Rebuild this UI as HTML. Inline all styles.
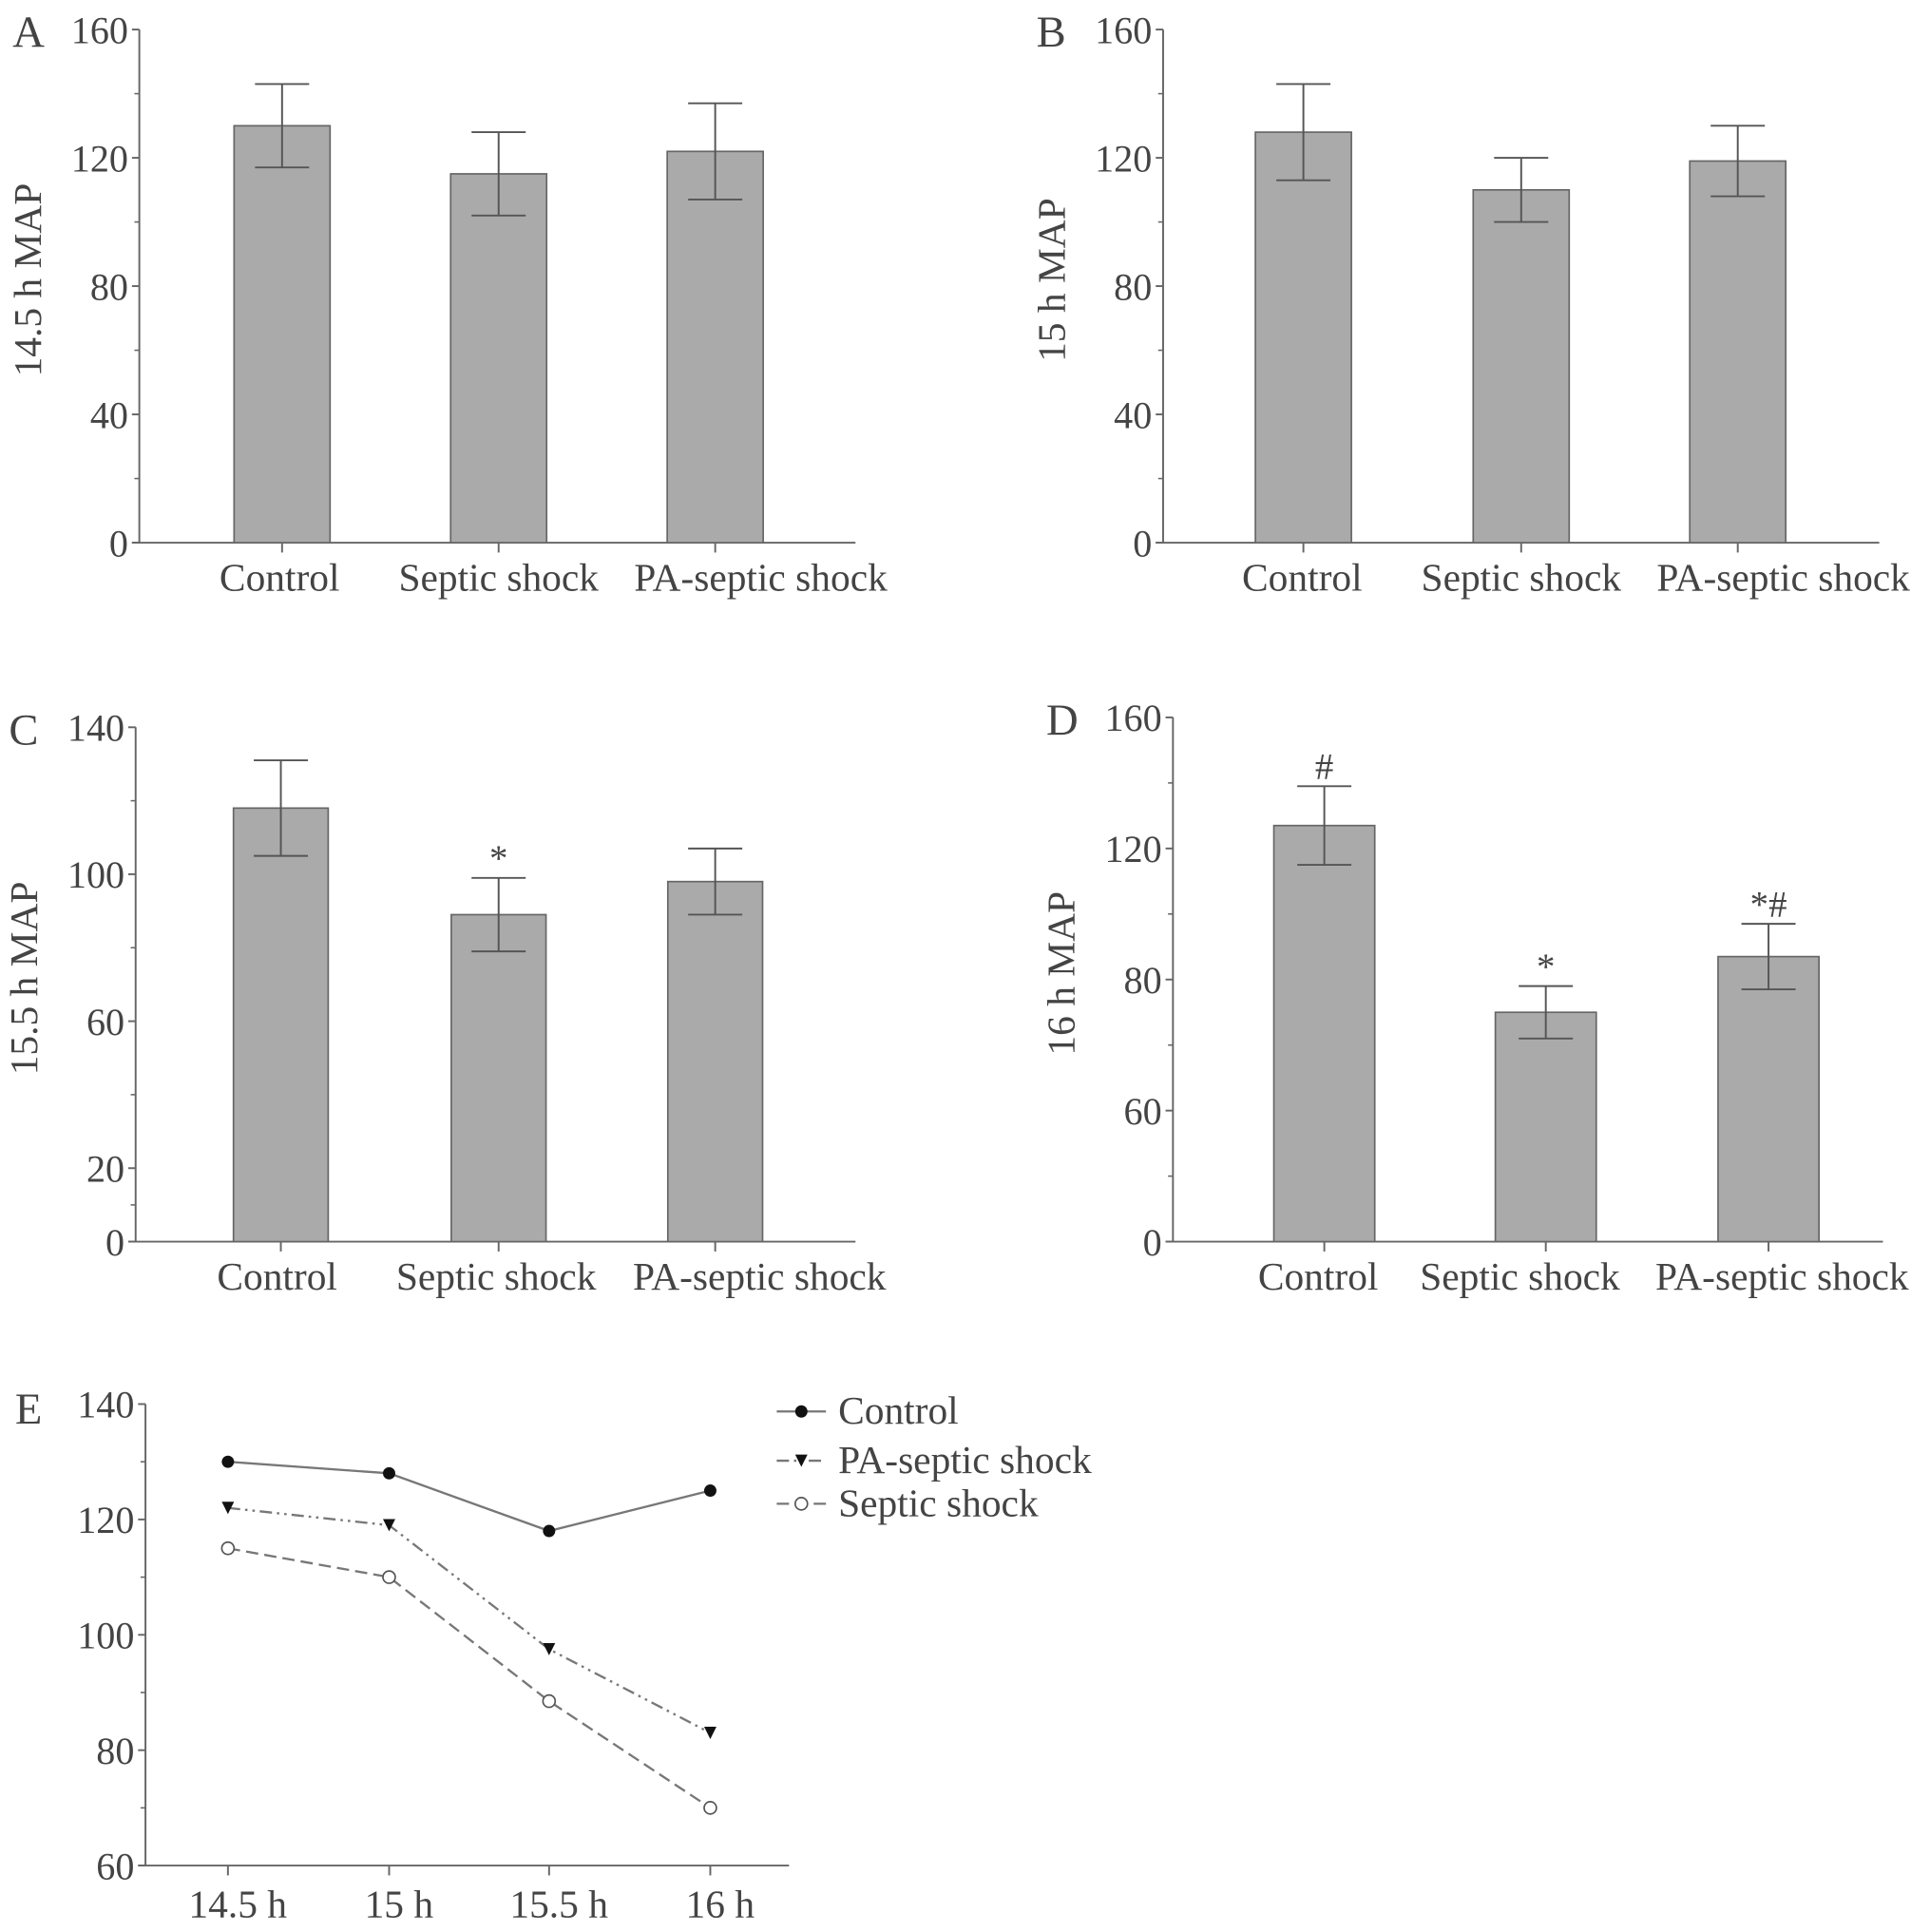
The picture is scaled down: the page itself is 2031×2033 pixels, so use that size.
<!DOCTYPE html>
<html><head><meta charset="utf-8"><style>
html,body{margin:0;padding:0;background:#fff;}
svg{display:block;}
text{font-family:"Liberation Serif",serif;fill:#444;}
</style></head><body>
<svg id="fig" width="2031" height="2033" viewBox="0 0 1568 1570" xmlns="http://www.w3.org/2000/svg"></svg>
<script>
// ---- data ----
const groups = ["Control", "Septic shock", "PA-septic shock"];
const valsA = [130, 115, 122]; const errA = [13, 13, 15];
const valsB = [128, 110, 119]; const errB = [15, 10, 11];
const valsC = [118, 89, 98];   const errC = [13, 10, 9];
const valsD = [127, 70, 87];   const errD = [12, 8, 10];
const annC = ["", "*", ""];
const annD = ["#", "*", "*#"];
const ticksAB = [0, 40, 80, 120, 160];
const ticksC = [0, 20, 60, 100, 140];
const ticksCLabels = ["0", "20", "60", "100", "140"];
const ticksD = [0, 40, 80, 120, 160];
const ticksDLabels = ["0", "60", "80", "120", "160"];
const timeLabels = ["14.5 h", "15 h", "15.5 h", "16 h"];
const lineControl = [130, 128, 118, 125];
const linePA = [122, 119, 97.5, 83];
const lineSeptic = [115, 110, 88.5, 70];
const ticksE = [60, 80, 100, 120, 140];

const svg = document.getElementById('fig');
const NS = 'http://www.w3.org/2000/svg';
function mk(tag, attrs, parent, txt) {
  const e = document.createElementNS(NS, tag);
  for (const k in attrs) e.setAttribute(k, attrs[k]);
  if (txt !== undefined) e.textContent = txt;
  (parent || svg).appendChild(e);
  return e;
}
const AX = '#666';

function barPanel(cfg) {
  const g = mk('g', {});
  
  
  const y = v => cfg.y0 - (v - cfg.min) / (cfg.max - cfg.min) * (cfg.y0 - cfg.yTop);
  const lt = mk('text', {x: cfg.ax - 103, y: cfg.yTop + 14, 'font-size': 36}, g, cfg.letter);
  
  
  const yax = mk('line', {x1: cfg.ax, x2: cfg.ax, y1: cfg.yTop, y2: cfg.y0, stroke: AX, 'stroke-width': 1.5}, g);
  
  
  const xax = mk('line', {x1: cfg.ax - 6, x2: cfg.axEnd, y1: cfg.y0, y2: cfg.y0, stroke: AX, 'stroke-width': 1.5}, g);
  
  
  cfg.ticks.forEach((t, i) => {
    mk('line', {x1: cfg.ax - 6, x2: cfg.ax, y1: y(t), y2: y(t), stroke: AX, 'stroke-width': 1.5}, g);
    const tl = mk('text', {x: cfg.ax - 9, y: y(t) + 11, 'font-size': 31, 'text-anchor': 'end'}, g, cfg.labels[i]);
    
    
    if (i < cfg.ticks.length - 1) {
      const m = (t + cfg.ticks[i + 1]) / 2;
      mk('line', {x1: cfg.ax - 4, x2: cfg.ax, y1: y(m), y2: y(m), stroke: AX, 'stroke-width': 1.2}, g);
    }
  });
  const yt = mk('text', {x: 0, y: 0, 'font-size': 32, 'text-anchor': 'middle', transform: `translate(${cfg.ax - 80},${(cfg.yTop + cfg.y0) / 2 - 5}) rotate(-90)`}, g, cfg.title);
  
  
  groups.forEach((name, i) => {
    const cx = cfg.cx[i];
    const v = cfg.vals[i], e = cfg.err[i];
    const b = mk('rect', {x: cx - cfg.bw / 2, y: y(v), width: cfg.bw, height: cfg.y0 - y(v), fill: '#aaaaaa', stroke: '#666', 'stroke-width': 1.3}, g);
    
    
    const eb = mk('g', {stroke: '#555', 'stroke-width': 1.5}, g);
    
    
    mk('line', {x1: cx, x2: cx, y1: y(v + e), y2: y(v - e)}, eb);
    mk('line', {x1: cx - 22, x2: cx + 22, y1: y(v + e), y2: y(v + e)}, eb);
    mk('line', {x1: cx - 22, x2: cx + 22, y1: y(v - e), y2: y(v - e)}, eb);
    mk('line', {x1: cx, x2: cx, y1: cfg.y0, y2: cfg.y0 + 8, stroke: AX, 'stroke-width': 1.5}, g);
    const xl = mk('text', {x: cfg.lx[i], y: cfg.y0 + 39, 'font-size': 32, 'text-anchor': 'middle'}, g, name);
    
    
    if (cfg.ann && cfg.ann[i]) {
      const a = mk('text', {x: cx, y: y(v + e) - 6, 'font-size': 30, 'text-anchor': 'middle'}, g, cfg.ann[i]);
      
      
    }
  });
}

barPanel({letter: 'A', ax: 113, axEnd: 695, yTop: 24, y0: 441, min: 0, max: 160, ticks: ticksAB, labels: ticksAB.map(String), title: '14.5 h MAP', cx: [229, 405, 581], lx: [227, 405, 618], bw: 78, vals: valsA, err: errA});
barPanel({letter: 'B', ax: 945, axEnd: 1527, yTop: 24, y0: 441, min: 0, max: 160, ticks: ticksAB, labels: ticksAB.map(String), title: '15 h MAP', cx: [1059, 1236, 1412], lx: [1058, 1236, 1449], bw: 78, vals: valsB, err: errB});
barPanel({letter: 'C', ax: 110, axEnd: 695, yTop: 591, y0: 1009, min: 0, max: 140, ticks: ticksC, labels: ticksCLabels, title: '15.5 h MAP', cx: [228, 405, 581], lx: [225, 403, 617], bw: 77, vals: valsC, err: errC, ann: annC});
barPanel({letter: 'D', ax: 953, axEnd: 1530, yTop: 583, y0: 1009, min: 0, max: 160, ticks: ticksD, labels: ticksDLabels, title: '16 h MAP', cx: [1076, 1256, 1437], lx: [1071, 1235, 1448], bw: 82, vals: valsD, err: errD, ann: annD});

// ---- panel E ----
(function () {
  const g = mk('g', {});
  
  
  const ax = 118, axEnd = 641, yTop = 1141, y0 = 1516, min = 60, max = 140;
  const xs = [185, 316, 446, 577];
  const y = v => y0 - (v - min) / (max - min) * (y0 - yTop);
  const lt = mk('text', {x: 12, y: 1157, 'font-size': 36}, g, 'E');
  
  
  mk('line', {x1: ax, x2: ax, y1: yTop, y2: y0, stroke: AX, 'stroke-width': 1.5}, g);
  mk('line', {x1: ax - 6, x2: axEnd, y1: y0, y2: y0, stroke: AX, 'stroke-width': 1.5}, g);
  ticksE.forEach((t, i) => {
    mk('line', {x1: ax - 6, x2: ax, y1: y(t), y2: y(t), stroke: AX, 'stroke-width': 1.5}, g);
    const tl = mk('text', {x: ax - 9, y: y(t) + 11, 'font-size': 31, 'text-anchor': 'end'}, g, String(t));
    
    
    if (i < ticksE.length - 1) { const m = t + 10; mk('line', {x1: ax - 4, x2: ax, y1: y(m), y2: y(m), stroke: AX, 'stroke-width': 1.2}, g); }
  });
  timeLabels.forEach((l, i) => {
    mk('line', {x1: xs[i], x2: xs[i], y1: y0, y2: y0 + 8, stroke: AX, 'stroke-width': 1.5}, g);
    const xl = mk('text', {x: xs[i] + 8, y: y0 + 42, 'font-size': 32, 'text-anchor': 'middle'}, g, l);
    
    
  });
  const series = [
    {name: 'control', data: lineControl, dash: '', marker: 'dot'},
    {name: 'pa-septic-shock', data: linePA, dash: '10 4 2 4 2 4', marker: 'tri'},
    {name: 'septic-shock', data: lineSeptic, dash: '10 5', marker: 'circle'}
  ];
  function marker(s, x, yy, parent) {
    let m;
    if (s.marker === 'dot') m = mk('circle', {cx: x, cy: yy, r: 5, fill: '#111'}, parent);
    else if (s.marker === 'tri') m = mk('path', {d: `M${x - 5},${yy - 5}L${x + 5},${yy - 5}L${x},${yy + 5}Z`, fill: '#111'}, parent);
    else m = mk('circle', {cx: x, cy: yy, r: 5, fill: '#fff', stroke: '#555', 'stroke-width': 1.3}, parent);
    
    
  }
  series.forEach(s => {
    const pts = s.data.map((v, i) => xs[i] + ',' + y(v)).join(' ');
    const pl = mk('polyline', {points: pts, fill: 'none', stroke: '#777', 'stroke-width': 1.8, 'stroke-dasharray': s.dash}, g);
    
    
    s.data.forEach((v, i) => marker(s, xs[i], y(v), g));
  });
  const legend = [['Control', 1147, series[0]], ['PA-septic shock', 1187, series[1]], ['Septic shock', 1222, series[2]]];
  legend.forEach(([lab, ly, s]) => {
    const lg = mk('g', {}, g);
    
    
    mk('line', {x1: 631, x2: 671, y1: ly, y2: ly, stroke: '#777', 'stroke-width': 1.8, 'stroke-dasharray': s.dash}, lg);
    marker(s, 651, ly, lg);
    mk('text', {x: 681, y: ly + 10, 'font-size': 32}, lg, lab);
  });
})();
</script>
</body></html>
